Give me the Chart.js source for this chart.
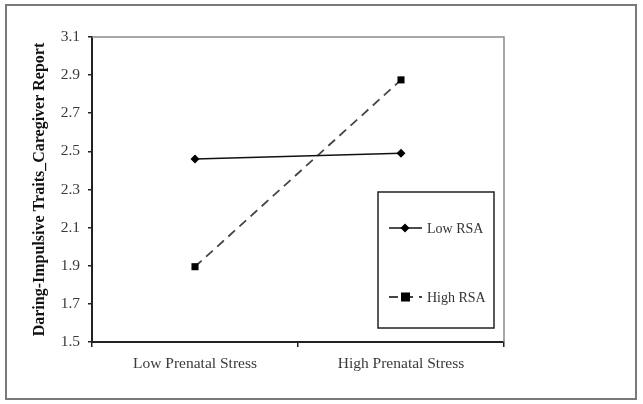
<!DOCTYPE html>
<html>
<head>
<meta charset="utf-8">
<script src="https://cdn.jsdelivr.net/npm/chart.js@4.4.1/dist/chart.umd.min.js"></script>
<style>
  html, body { margin: 0; padding: 0; background: #fff; }
  #wrap { width: 643px; height: 404px; position: relative; }
</style>
</head>
<body>
<div id="wrap"><canvas id="chart" width="643" height="404"></canvas></div>
<script>
// values
const categories = ['Low Prenatal Stress', 'High Prenatal Stress'];
const lowRSA = [2.46, 2.49];
const highRSA = [1.895, 2.875];
const yTicks = [1.5, 1.7, 1.9, 2.1, 2.3, 2.5, 2.7, 2.9, 3.1];
const yTitle = 'Daring-Impulsive Traits_Caregiver Report';

const SERIF = "'Liberation Serif', 'Times New Roman', serif";

// outer frame, grey top/right of plot area and the boxed legend
const framePlugin = {
  id: 'frame',
  beforeDraw(chart) {
    const ctx = chart.ctx;
    ctx.save();
    ctx.fillStyle = '#fff';
    ctx.fillRect(0, 0, chart.width, chart.height);
    ctx.strokeStyle = '#7a7a7a';
    ctx.lineWidth = 2;
    ctx.strokeRect(6, 5, 630, 394);
    ctx.restore();
  },
  afterDatasetsDraw(chart) {
    const ctx = chart.ctx;
    const a = chart.chartArea;
    ctx.save();
    ctx.strokeStyle = '#8a8a8a';
    ctx.lineWidth = 1.5;
    ctx.beginPath();
    ctx.moveTo(a.left, a.top);
    ctx.lineTo(a.right, a.top);
    ctx.lineTo(a.right, a.bottom);
    ctx.stroke();

    // legend box
    ctx.strokeStyle = '#222';
    ctx.lineWidth = 1.5;
    ctx.strokeRect(378, 192, 116, 136);
    const rows = [228, 297];
    chart.data.datasets.forEach((ds, i) => {
      const y = rows[i];
      ctx.strokeStyle = ds.borderColor;
      ctx.lineWidth = ds.borderWidth;
      ctx.setLineDash(ds.borderDash || []);
      ctx.beginPath();
      ctx.moveTo(389, y);
      ctx.lineTo(422, y);
      ctx.stroke();
      ctx.setLineDash([]);
      ctx.fillStyle = '#000';
      if (ds.pointStyle === 'rect') {
        ctx.fillRect(401, y - 4.5, 9, 9);
      } else {
        ctx.beginPath();
        ctx.moveTo(405, y - 4.5);
        ctx.lineTo(409.5, y);
        ctx.lineTo(405, y + 4.5);
        ctx.lineTo(400.5, y);
        ctx.closePath();
        ctx.fill();
      }
      ctx.fillStyle = '#333';
      ctx.font = '14px ' + SERIF;
      ctx.textBaseline = 'middle';
      ctx.fillText(ds.label, 427, y + 1);
    });
    ctx.restore();
  }
};

new Chart(document.getElementById('chart'), {
  type: 'line',
  data: {
    labels: categories,
    datasets: [
      {
        label: 'Low RSA',
        data: lowRSA,
        borderColor: '#111',
        borderWidth: 1.5,
        pointStyle: 'rectRot',
        pointRadius: 4.5,
        pointBackgroundColor: '#000',
        pointBorderColor: '#000',
        pointBorderWidth: 0
      },
      {
        label: 'High RSA',
        data: highRSA,
        borderColor: '#444',
        borderWidth: 1.8,
        borderDash: [9, 6],
        pointStyle: 'rect',
        pointRadius: 5,
        pointBackgroundColor: '#000',
        pointBorderColor: '#000',
        pointBorderWidth: 0
      }
    ]
  },
  options: {
    responsive: false,
    animation: false,
    layout: { padding: { left: 30, top: 37, right: 139, bottom: 20 } },
    plugins: {
      legend: { display: false },
      tooltip: { enabled: false }
    },
    scales: {
      x: {
        offset: true,
        grid: {
          offset: true,
          drawOnChartArea: false,
          drawTicks: true,
          tickLength: 5,
          color: '#222',
          lineWidth: 1.5
        },
        border: { color: '#222', width: 2 },
        ticks: {
          color: '#3a3a3a',
          font: { family: SERIF, size: 15.5 },
          padding: 8,
          maxRotation: 0
        },
        afterFit(s) { s.height = 42; }
      },
      y: {
        min: 1.5,
        max: 3.1,
        afterBuildTicks(s) { s.ticks = yTicks.map(v => ({ value: v })); },
        grid: {
          drawOnChartArea: false,
          drawTicks: true,
          tickLength: 4,
          color: '#222',
          lineWidth: 1.5
        },
        border: { color: '#222', width: 2 },
        ticks: {
          color: '#3a3a3a',
          font: { family: SERIF, size: 15.5 },
          padding: 8,
          callback: v => v.toFixed(1)
        },
        title: {
          display: true,
          text: yTitle,
          color: '#111',
          font: { family: SERIF, size: 16, weight: 'bold' },
          padding: { top: 0, bottom: 4 }
        },
        afterFit(s) { s.width = 62; }
      }
    }
  },
  plugins: [framePlugin]
});
</script>
</body>
</html>
